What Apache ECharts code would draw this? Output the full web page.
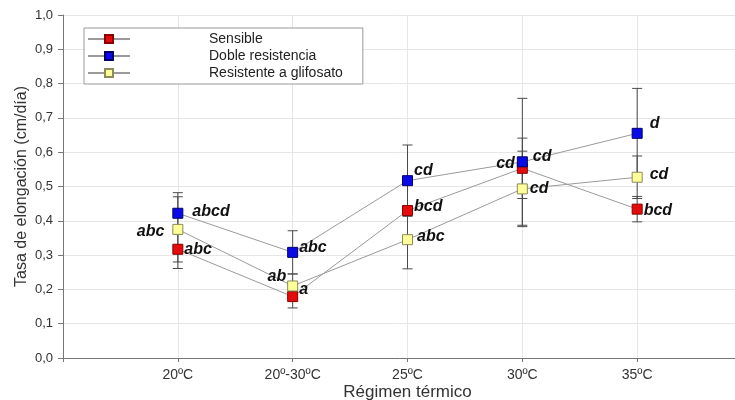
<!DOCTYPE html>
<html>
<head>
<meta charset="utf-8">
<script src="https://cdn.jsdelivr.net/npm/echarts@6/dist/echarts.min.js"></script>
<style>
  html, body { margin: 0; padding: 0; background: #fff; }
  #chart { width: 735px; height: 400px; }
</style>
</head>
<body>
<div id="chart"></div>
<script>
// categorias del eje x
const regimenes = ['20ºC', '20º-30ºC', '25ºC', '30ºC', '35ºC'];

// medias (cm/día)
const sensible = [0.317, 0.179, 0.430, 0.553, 0.434];
const dobleResistencia = [0.422, 0.308, 0.517, 0.572, 0.655];
const resistenteGlifosato = [0.375, 0.210, 0.345, 0.493, 0.527];

// error (+/-)
const errSensible = [0.056, 0.033, 0.012, 0.088, 0.037];
const errDoble = [0.060, 0.063, 0.104, 0.185, 0.131];
const errGlifosato = [0.095, 0.035, 0.085, 0.110, 0.062];

// letras de significancia
const letrasSensible = ['abc', 'a', 'bcd', 'cd', 'bcd'];
const letrasDoble = ['abcd', 'abc', 'cd', 'cd', 'd'];
const letrasGlifosato = ['abc', 'ab', 'abc', 'cd', 'cd'];

const yTicks = ['0,0', '0,1', '0,2', '0,3', '0,4', '0,5', '0,6', '0,7', '0,8', '0,9', '1,0'];

// donde va cada letra: [lado, desplazamiento vertical, distancia]
const ladoSensible = [['right', 0, 1], ['right', -7, 1], ['right', -4, 1], ['left', -5, 2], ['right', 1, 1]];
const ladoDoble = [['right', -2, 9], ['right', -5, 1], ['right', -10, 1], ['right', -5, 5], ['right', -10, 7]];
const ladoGlifosato = [['left', 2, 8], ['left', -9, 1], ['right', -3, 4], ['right', 0, 2], ['right', -3, 7]];

const chart = echarts.init(document.getElementById('chart'));

function puntos(vals, letras, lados) {
  return vals.map((v, i) => ({
    value: [i + 1, v],
    label: {
      show: true,
      formatter: letras[i],
      position: lados[i][0],
      distance: lados[i][2],
      offset: [0, lados[i][1]]
    }
  }));
}

function barras(vals, errs) {
  return vals.map((v, i) => [i + 1, v - errs[i], v + errs[i]]);
}

function dibujarBarra(params, api) {
  const x = api.value(0);
  const lo = api.coord([x, api.value(1)]);
  const hi = api.coord([x, api.value(2)]);
  const w = 5;
  const st = { stroke: '#4a4a4a', lineWidth: 1 };
  return {
    type: 'group',
    children: [
      { type: 'line', shape: { x1: hi[0], y1: hi[1], x2: lo[0], y2: lo[1] }, style: st },
      { type: 'line', shape: { x1: hi[0] - w, y1: hi[1], x2: hi[0] + w, y2: hi[1] }, style: st },
      { type: 'line', shape: { x1: lo[0] - w, y1: lo[1], x2: lo[0] + w, y2: lo[1] }, style: st }
    ]
  };
}

const letraStyle = {
  fontFamily: 'Liberation Sans',
  fontSize: 16,
  fontWeight: 'bold',
  fontStyle: 'italic',
  color: '#111'
};

function serieLinea(nombre, datos, color, borde) {
  return {
    name: nombre,
    type: 'line',
    data: datos,
    symbol: 'rect',
    symbolSize: 10,
    z: 5,
    lineStyle: { color: '#9a9a9a', width: 1 },
    itemStyle: { color: color, borderColor: borde, borderWidth: 1 },
    label: letraStyle,
    emphasis: { disabled: true }
  };
}

function serieError(datos) {
  return {
    type: 'custom',
    data: datos,
    renderItem: dibujarBarra,
    encode: { x: 0, y: [1, 2] },
    z: 2,
    silent: true
  };
}

chart.setOption({
  animation: false,
  textStyle: { fontFamily: 'Liberation Sans' },
  grid: { left: 63, right: -17, top: 15, bottom: 42, outerBoundsMode: 'none' },
  legend: {
    orient: 'vertical',
    left: 84,
    top: 28,
    data: ['Sensible', 'Doble resistencia', 'Resistente a glifosato'],
    itemWidth: 42,
    itemHeight: 10,
    itemGap: 3,
    padding: [4, 20, 4, 3],
    borderColor: '#999',
    borderWidth: 1,
    backgroundColor: '#fff',
    textStyle: { fontSize: 14, color: '#222', padding: [0, 0, 0, 74] }
  },
  xAxis: {
    type: 'value',
    min: 0,
    max: 6,
    interval: 1,
    name: 'Régimen térmico',
    nameLocation: 'middle',
    nameGap: 26,
    nameMoveOverlap: false,
    nameTextStyle: { fontSize: 17, color: '#333' },
    axisLine: { lineStyle: { color: '#777' } },
    axisTick: { show: true, length: 4, lineStyle: { color: '#777' } },
    axisLabel: {
      fontSize: 14,
      color: '#333',
      margin: 10,
      formatter: v => (v >= 1 && v <= 5 ? regimenes[v - 1] : '')
    },
    splitLine: { show: true, lineStyle: { color: '#e6e6e6' } }
  },
  yAxis: {
    type: 'value',
    min: 0,
    max: 1,
    interval: 0.1,
    name: 'Tasa de elongación (cm/día)',
    nameLocation: 'middle',
    nameGap: 33,
    nameMoveOverlap: false,
    nameTextStyle: { fontSize: 16, color: '#333' },
    axisLine: { show: true, lineStyle: { color: '#777' } },
    axisTick: { show: true, length: 5, lineStyle: { color: '#777' } },
    axisLabel: {
      fontSize: 13,
      color: '#333',
      margin: 10,
      formatter: v => yTicks[Math.round(v * 10)]
    },
    splitLine: { show: true, lineStyle: { color: '#e6e6e6' } }
  },
  series: [
    serieError(barras(sensible, errSensible)),
    serieError(barras(dobleResistencia, errDoble)),
    serieError(barras(resistenteGlifosato, errGlifosato)),
    serieLinea('Sensible', puntos(sensible, letrasSensible, ladoSensible), '#e30b0b', '#8a0000'),
    serieLinea('Doble resistencia', puntos(dobleResistencia, letrasDoble, ladoDoble), '#0a0ae6', '#00006e'),
    serieLinea('Resistente a glifosato', puntos(resistenteGlifosato, letrasGlifosato, ladoGlifosato), '#ffff99', '#8a8a5a')
  ]
});
</script>
</body>
</html>
